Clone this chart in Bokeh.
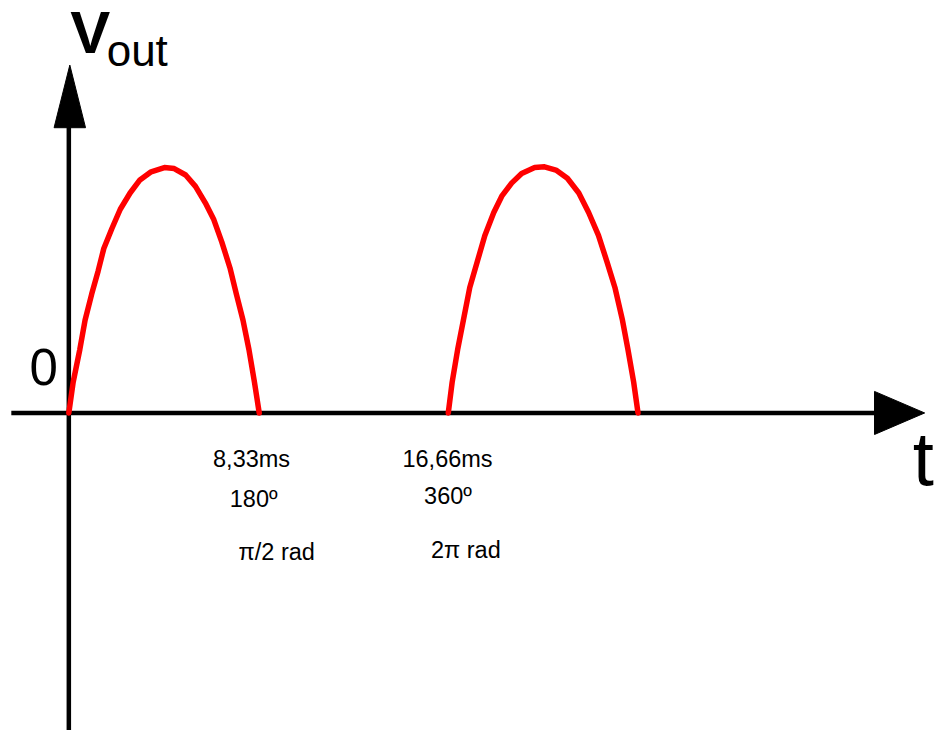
from bokeh.plotting import figure
from bokeh.models import Range1d, Label
from bokeh.embed import file_html
from bokeh.resources import INLINE

# ---- data: time in ms, Vout relative to the peak ----
t_hump1 = [0, 0.19, 0.48, 0.71, 1.00, 1.28, 1.53, 1.88, 2.25, 2.68, 3.11, 3.60, 4.18,
           4.61, 5.11, 5.54, 5.97, 6.33, 6.69, 7.05, 7.33, 7.62, 7.88, 8.12, 8.33]
v_hump1 = [0, 0.125, 0.257, 0.376, 0.482, 0.575, 0.667, 0.747, 0.826, 0.892, 0.945, 0.978, 0.995,
           0.991, 0.965, 0.919, 0.852, 0.787, 0.694, 0.588, 0.482, 0.376, 0.257, 0.125, 0]
t_hump2 = [16.6, 16.77, 17.01, 17.26, 17.54, 17.87, 18.20, 18.59, 18.94, 19.37, 19.81, 20.38, 20.81,
           21.31, 21.81, 22.31, 22.74, 23.17, 23.54, 23.89, 24.22, 24.46, 24.71, 24.9]
v_hump2 = [0, 0.125, 0.257, 0.376, 0.509, 0.614, 0.720, 0.813, 0.879, 0.932, 0.971, 0.995, 0.998,
           0.985, 0.952, 0.892, 0.813, 0.720, 0.614, 0.509, 0.376, 0.257, 0.125, 0]

tick_times = [8.33, 16.66]
tick_ms = ["8,33ms", "16,66ms"]
tick_deg = ["180º", "360º"]
tick_rad = ["π/2 rad", "2π rad"]
y_title_main = "V"
y_title_sub = "out"
x_title = "t"
origin_label = "0"

# ---- layout (pixels of the 950x746 reference, mapped onto the frame) ----
W, H = 934, 730
OX, OY = 69.5, 421.5     # reference pixel of the origin
SX, SY = 23.25, 252.0    # reference pixels per ms, per unit of Vout
BASE_FIX = 0.37          # baseline correction, in em


def tx(px):
    return (px - OX) / SX


def ty(py):
    return (OY - py) / SY


def label(x_px, base_px, text, size, **kw):
    return Label(x=tx(x_px), y=ty(base_px - BASE_FIX * size), text=text,
                 text_font="Liberation Sans", text_font_size=f"{size}px",
                 text_color="black", text_baseline="alphabetic", **kw)


p = figure(width=W, height=H, output_backend="svg", toolbar_location=None,
           x_range=Range1d(tx(0), tx(950)), y_range=Range1d(ty(746), ty(0)),
           x_axis_type=None, y_axis_type=None, min_border=0,
           outline_line_color=None, background_fill_color="white",
           border_fill_color="white")
p.grid.visible = False

# axes drawn as arrows
p.line([tx(11), tx(892)], [0, 0], line_width=4.5, line_color="black")
p.patch([tx(889), tx(940), tx(889)], [ty(399.5), ty(421.5), ty(443.5)],
        fill_color="black", line_color="black", line_width=1)
p.line([0, 0], [ty(760), ty(128)], line_width=4.5, line_color="black")
p.patch([tx(54.5), tx(70.5), tx(86.5)], [ty(130), ty(66), ty(130)],
        fill_color="black", line_color="black", line_width=1)

# half-wave rectified output
for tt, vv in ((t_hump1, v_hump1), (t_hump2, v_hump2)):
    p.line(tt, vv, line_color="#ff0000", line_width=5.5,
           line_join="round", line_cap="round")

# axis titles
p.add_layout(label(71, 55, y_title_main, 60, text_font_style="bold"))
p.add_layout(label(108, 67, y_title_sub, 44))
p.add_layout(label(928, 496, x_title, 76))
p.add_layout(label(44, 393, origin_label, 51, text_align="center"))

# tick annotations below the time axis (pixel offsets from each tick time)
rows = [(tick_ms, [-47, -48], [477, 477]), (tick_deg, [-30, -26], [518, 515]),
        (tick_rad, [-21, -19], [572, 570])]
for texts, dxs, bases in rows:
    for tt, txt, dx, b in zip(tick_times, texts, dxs, bases):
        p.add_layout(label(OX + (tt * SX) + dx, b, txt, 23.5))

open("out.html", "w").write(file_html(p, INLINE))
